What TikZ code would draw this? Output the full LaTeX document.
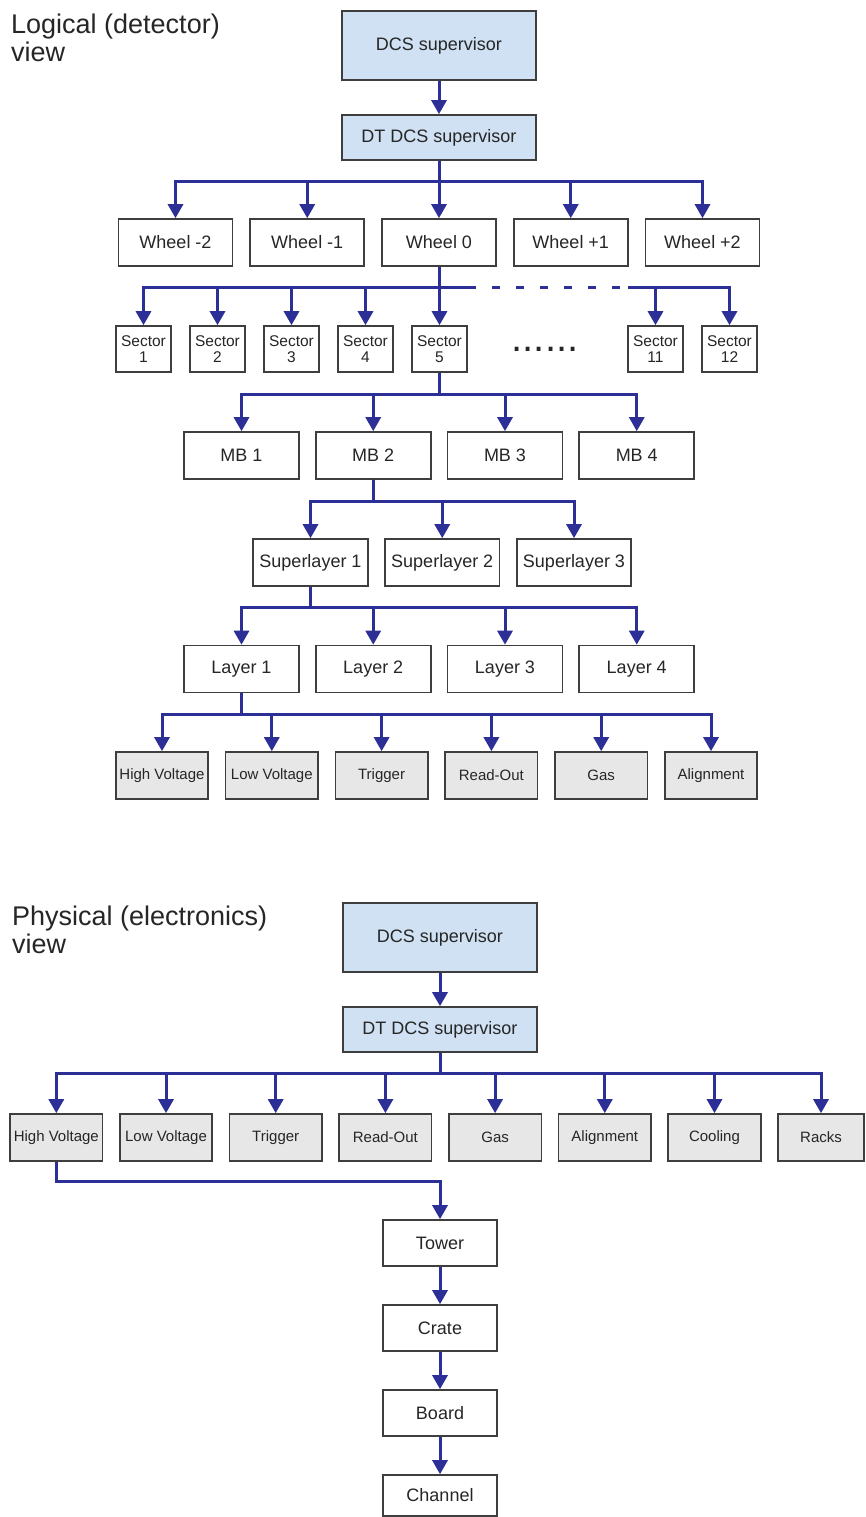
\documentclass[tikz,border=0pt]{standalone}
\usepackage{fontspec}
\setmainfont{Liberation Sans}
\usetikzlibrary{arrows.meta}

\definecolor{linkblue}{RGB}{44,48,150}
\definecolor{supfill}{RGB}{207,225,243}
\definecolor{subfill}{RGB}{231,231,231}
\definecolor{edge}{RGB}{62,62,62}
\definecolor{ink}{RGB}{38,38,38}

\begin{document}
\begin{tikzpicture}[x=1pt,y=-1pt,
  box/.style={draw=edge,line width=1.6pt,fill=white,inner sep=0pt,text=ink,
              align=center,font=\fontsize{18}{20}\selectfont},
  supbox/.style={box,fill=supfill,minimum width=194pt},
  wheelbox/.style={box,minimum width=114pt,minimum height=47pt},
  sectbox/.style={box,minimum width=55pt,minimum height=46pt,
                  font=\fontsize{15.5}{16.5}\selectfont},
  midbox/.style={box,minimum width=115pt,minimum height=47pt},
  leafbox/.style={box,fill=subfill,minimum width=92.5pt,minimum height=47pt,
                  font=\fontsize{15}{17}\selectfont},
  chainbox/.style={box,minimum width=114.5pt,minimum height=46pt},
  title/.style={anchor=north west,inner sep=0pt,align=left,text=ink,
                font=\fontsize{27}{28}\selectfont},
  link/.style={draw=linkblue,line width=3pt,-{Triangle[length=14pt,width=15pt]}},
  bus/.style={draw=linkblue,line width=3pt},
]
\fill[white] (0,0) rectangle (865,1517);
\useasboundingbox (0,0) rectangle (865,1517);

% ---------------- logical (detector) view ----------------
\node[title] (ttl1) at (11,13.5) {Logical (detector)\\view};

\node[supbox,minimum height=69pt] (dcs1) at (439,45.5) {DCS supervisor};
\node[supbox,minimum height=45pt] (dt1)  at (439,137.5) {DT DCS supervisor};
\draw[link] (dcs1.south) -- (dt1.north);

% wheels
\foreach \n/\t [count=\k from 0] in {wm2/Wheel -2, wm1/Wheel -1, w0/Wheel 0, wp1/Wheel +1, wp2/Wheel +2}
  \node[wheelbox] (\n) at ({175.5+131.75*\k},242.5) {\t};
\foreach \n in {wm2,wm1,w0,wp1,wp2}
  \draw[link] (dt1.south) -- ++(0,21) -| (\n.north);

% sectors
\foreach \k in {1,...,5}
  \node[sectbox] (s\k) at ({143.5+74*(\k-1)},349) {Sector\\\k};
\node[sectbox] (s11) at (655.5,349) {Sector\\11};
\node[sectbox] (s12) at (729.5,349) {Sector\\12};
\node[inner sep=0pt,anchor=base,text=ink,font=\fontsize{40}{40}\selectfont] (dots) at (545,351) {......};

\coordinate (dashL) at (473,287);
\coordinate (dashR) at (628,287);
\draw[bus] (w0.south) |- (dashL);
\foreach \k in {1,...,5}
  \draw[link] (w0.south) -- ++(0,21) -| (s\k.north);
\draw[bus,dash pattern=on 8pt off 16pt,dash phase=5pt] (dashL) -- (dashR);
\draw[link] (dashR) -| (s11.north);
\draw[link] (dashR) -| (s12.north);

% muon barrel stations
\foreach \k in {1,...,4}
  \node[midbox] (mb\k) at ({241.5+131.75*(\k-1)},455.5) {MB \k};
\foreach \k in {1,...,4}
  \draw[link] (s5.south) -- ++(0,22) -| (mb\k.north);

% superlayers
\foreach \k in {1,...,3}
  \node[midbox,minimum width=114.5pt] (sl\k) at ({310.5+131.75*(\k-1)},562.5) {Superlayer \k};
\foreach \k in {1,...,3}
  \draw[link] (mb2.south) -- ++(0,22) -| (sl\k.north);

% layers
\foreach \k in {1,...,4}
  \node[midbox] (ly\k) at ({241.5+131.75*(\k-1)},669) {Layer \k};
\foreach \k in {1,...,4}
  \draw[link] (sl1.south) -- ++(0,21) -| (ly\k.north);

% subsystems under a layer
\foreach \n/\t [count=\k from 0] in {lhv/High Voltage, llv/Low Voltage, ltr/Trigger, lro/Read-Out, lgas/Gas, lal/Alignment}
  \node[leafbox] (\n) at ({162+109.8*\k},775.5) {\t};
\foreach \n in {lhv,llv,ltr,lro,lgas,lal}
  \draw[link] (ly1.south) -- ++(0,21) -| (\n.north);

% ---------------- physical (electronics) view ----------------
\node[title] (ttl2) at (12,905.5) {Physical (electronics)\\view};

\node[supbox,minimum height=69pt] (dcs2) at (440,937.5) {DCS supervisor};
\node[supbox,minimum height=45pt] (dt2)  at (440,1029.5) {DT DCS supervisor};
\draw[link] (dcs2.south) -- (dt2.north);

\foreach \n/\t [count=\k from 0] in {phv/High Voltage, plv/Low Voltage, ptr/Trigger, pro/Read-Out, pgas/Gas, pal/Alignment, pco/Cooling}
  \node[leafbox] (\n) at ({56.3+109.7*\k},1137.5) {\t};
\node[leafbox,minimum width=86pt] (pra) at (821,1137.5) {Racks};
\foreach \n in {phv,plv,ptr,pro,pgas,pal,pco,pra}
  \draw[link] (dt2.south) -- ++(0,21) -| (\n.north);

% high-voltage hardware chain
\node[chainbox] (tower)   at (440,1243) {Tower};
\node[chainbox] (crate)   at (440,1328) {Crate};
\node[chainbox] (board)   at (440,1413) {Board};
\node[chainbox,minimum height=41pt] (channel) at (440,1495.5) {Channel};
\draw[link] (phv.south) -- ++(0,20) -| (tower.north);
\draw[link] (tower.south) -- (crate.north);
\draw[link] (crate.south) -- (board.north);
\draw[link] (board.south) -- (channel.north);
\end{tikzpicture}
\end{document}
